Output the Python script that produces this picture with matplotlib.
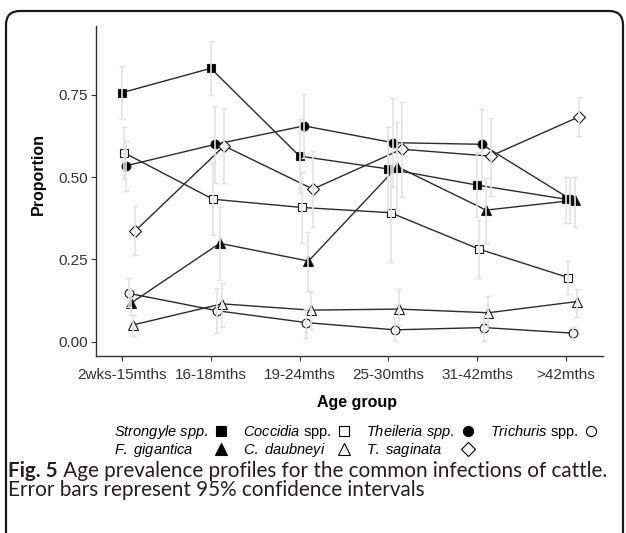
import matplotlib
matplotlib.use("Agg")
import matplotlib.pyplot as plt
from matplotlib.patches import FancyBboxPatch
from matplotlib.lines import Line2D

plt.rcParams['font.family'] = ['Liberation Sans', 'DejaVu Sans']
plt.rcParams['mathtext.fontset'] = 'custom'
plt.rcParams['mathtext.it'] = 'Liberation Sans:italic'
plt.rcParams['mathtext.rm'] = 'Liberation Sans'

# data
age_groups = ["2wks-15mths", "16-18mths", "19-24mths", "25-30mths", "31-42mths", ">42mths"]

strongyle = [0.757, 0.831, 0.564, 0.525, 0.476, 0.433]
strongyle_lo = [0.676, 0.750, 0.451, 0.400, 0.380, 0.360]
strongyle_hi = [0.839, 0.914, 0.677, 0.654, 0.577, 0.502]

coccidia = [0.574, 0.433, 0.408, 0.392, 0.281, 0.195]
coccidia_lo = [0.494, 0.324, 0.301, 0.243, 0.193, 0.145]
coccidia_hi = [0.653, 0.542, 0.517, 0.540, 0.370, 0.246]

theileria = [0.535, 0.600, 0.656, 0.605, 0.600, 0.433]
theileria_lo = [0.459, 0.483, 0.559, 0.470, 0.490, 0.360]
theileria_hi = [0.611, 0.716, 0.753, 0.740, 0.706, 0.502]

trichuris = [0.147, 0.094, 0.058, 0.036, 0.043, 0.026]
trichuris_lo = [0.105, 0.025, 0.012, 0.002, 0.002, 0.005]
trichuris_hi = [0.193, 0.162, 0.100, 0.074, 0.080, 0.045]

fgigantica = [0.117, 0.299, 0.245, 0.532, 0.400, 0.430]
fgigantica_lo = [0.080, 0.188, 0.155, 0.400, 0.299, 0.350]
fgigantica_hi = [0.160, 0.408, 0.334, 0.669, 0.497, 0.502]

cdaubneyi = [0.051, 0.115, 0.096, 0.099, 0.088, 0.122]
cdaubneyi_lo = [0.017, 0.046, 0.040, 0.050, 0.040, 0.076]
cdaubneyi_hi = [0.081, 0.177, 0.150, 0.159, 0.139, 0.159]

tsaginata = [0.337, 0.595, 0.464, 0.585, 0.564, 0.684]
tsaginata_lo = [0.264, 0.481, 0.350, 0.441, 0.443, 0.625]
tsaginata_hi = [0.412, 0.709, 0.580, 0.730, 0.681, 0.745]

series = [
    (r"$\it{Strongyle\ spp.}$", strongyle, strongyle_lo, strongyle_hi, 's', 'black'),
    (r"$\it{Coccidia}$ spp.", coccidia, coccidia_lo, coccidia_hi, 's', 'white'),
    (r"$\it{Theileria\ spp.}$", theileria, theileria_lo, theileria_hi, 'o', 'black'),
    (r"$\it{Trichuris}$ spp.", trichuris, trichuris_lo, trichuris_hi, 'o', 'white'),
    (r"$\it{F.\ gigantica}$", fgigantica, fgigantica_lo, fgigantica_hi, '^', 'black'),
    (r"$\it{C.\ daubneyi}$", cdaubneyi, cdaubneyi_lo, cdaubneyi_hi, '^', 'white'),
    (r"$\it{T.\ saginata}$", tsaginata, tsaginata_lo, tsaginata_hi, 'D', 'white'),
]

W, H = 626, 533
fig = plt.figure(figsize=(W / 100, H / 100), dpi=100)

# rounded frame around the whole figure
bg = fig.add_axes([0, 0, 1, 1])
bg.set_xlim(0, W)
bg.set_ylim(H, 0)
bg.axis('off')
bg.add_patch(FancyBboxPatch((6, 11), 617, 540, boxstyle="round,pad=0,rounding_size=14",
                            fc='white', ec='#1a1a1a', lw=1.6))

ax = fig.add_axes([96 / W, 1 - 356 / H, 507 / W, 330 / H])
ax.patch.set_alpha(0)

dodge = 0.025
handles = {}
for k, (name, vals, lo, hi, mk, fc) in enumerate(series):
    xs = [i + k * dodge for i in range(len(age_groups))]
    ax.plot(xs, vals, color='#2b2b2b', lw=1.0, zorder=1)
    ms = 6.3 if mk != 'D' else 6.0
    if mk == '^':
        ms = 7.0
    ax.plot(xs, vals, ls='none', marker=mk, ms=ms, mfc=fc, mec='#1a1a1a', mew=0.8, zorder=2)
    yerr = [[v - l for v, l in zip(vals, lo)], [h - v for v, h in zip(vals, hi)]]
    ax.errorbar(xs, vals, yerr=yerr, fmt='none', ecolor='#e3e3e3', elinewidth=1.2,
                capsize=2.5, capthick=1.0, zorder=3)
    handles[name] = Line2D([], [], ls='none', marker=mk, ms=ms + 1, mfc=fc, mec='black', mew=0.8)

ax.set_xlim(-0.293, 5.417)
ax.set_ylim(-0.0435, 0.9596)
ax.set_xticks(range(len(age_groups)))
ax.set_xticklabels(age_groups)
ax.set_yticks([0.0, 0.25, 0.5, 0.75])
ax.set_yticklabels(["0.00", "0.25", "0.50", "0.75"])
for s in ['top', 'right']:
    ax.spines[s].set_visible(False)
for s in ['left', 'bottom']:
    ax.spines[s].set_color('#333333')
    ax.spines[s].set_linewidth(1.0)
ax.tick_params(axis='both', colors='#333333', length=3.5, width=0.8, labelsize=11,
               labelcolor='#333333')
ax.tick_params(axis='x', pad=5)
ax.tick_params(axis='y', pad=2)

fig.text(38.5 / W, 1 - 174 / H, "Proportion", rotation=90, fontsize=11.5,
         fontweight='bold', ha='center', va='center')
fig.text(357 / W, 1 - 403 / H, "Age group", fontsize=11.5, fontweight='bold',
         ha='center', va='center')

order = [0, 4, 1, 5, 2, 6, 3]
leg_labels = [series[i][0] for i in order]
leg = fig.legend([handles[l] for l in leg_labels], leg_labels, loc='center',
                 bbox_to_anchor=(356 / W, 1 - 441 / H), ncol=4, frameon=False,
                 markerfirst=False, fontsize=10.5, handlelength=1.0, handletextpad=0.4,
                 columnspacing=1.0, labelspacing=0.05, borderpad=0)

# left-align the labels in each legend column, keeping the keys lined up
fig.canvas.draw()
r = fig.canvas.get_renderer()
for col in leg._legend_handle_box.get_children():
    col.align = 'left'
    entries = col.get_children()
    widths = [e.get_children()[0].get_bbox(r).width for e in entries]
    for e, w in zip(entries, widths):
        e.sep += (max(widths) - w) / r.points_to_pixels(1.0)

# caption: bold "Fig. 5" followed by regular text on the same baseline
cap_font = dict(family=['Lato', 'DejaVu Sans'], color='#231f20', fontsize=14.9)
cap = fig.text(8 / W, 1 - 477 / H, "Fig. 5", fontweight='bold', va='baseline',
               ha='left', **cap_font)
bg.annotate(" Age prevalence profiles for the common infections of cattle.",
            xy=(1, 0), xycoords=cap, va='bottom', ha='left', **cap_font)
fig.text(8 / W, 1 - 496 / H, "Error bars represent 95% confidence intervals",
         va='baseline', ha='left', **cap_font)

fig.savefig("out.png", dpi=100)
